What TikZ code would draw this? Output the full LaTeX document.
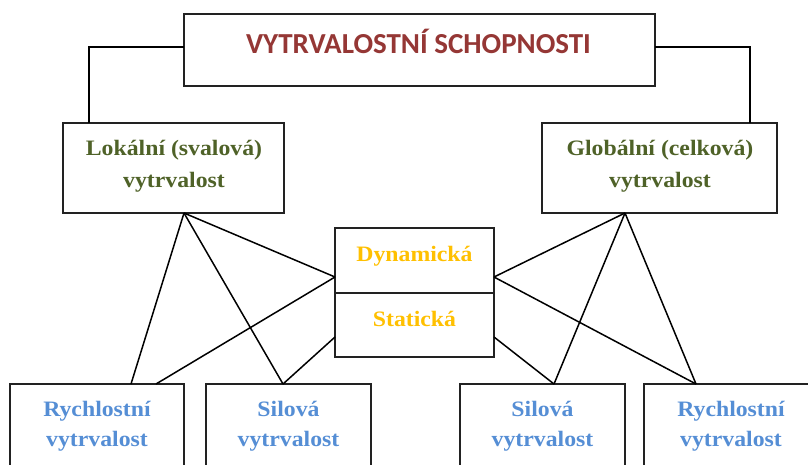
\documentclass[tikz,border=0pt]{standalone}
\usepackage{fontspec}
\usetikzlibrary{calc}
\newfontfamily\serb{Liberation Serif}[FakeStretch=1.08]
\newfontfamily\calb{Carlito}
\definecolor{titlered}{HTML}{953735}
\definecolor{olivegreen}{HTML}{4F6228}
\definecolor{goldtext}{HTML}{FFC000}
\definecolor{bluetext}{HTML}{558ED5}
\definecolor{boxline}{HTML}{222222}
\tikzset{
  boxnode/.style={draw=boxline, line width=1.7pt, inner sep=0pt, outer sep=0pt, fill=white},
  conn/.style={draw=black, line width=1.5pt},
  lbl/.style={inner sep=0pt, anchor=base, font=\serb\bfseries\fontsize{22}{24}\selectfont},
  titletext/.style={inner sep=0pt, anchor=base, text=titlered, font=\calb\bfseries\fontsize{29}{32}\selectfont},
}
\begin{document}
\begin{tikzpicture}[x=1pt, y=-1pt]
\useasboundingbox (0,0) rectangle (808,464);
\clip (0,0) rectangle (808,464);
\fill[white] (0,0) rectangle (808,464);
% boxes
\node[boxnode, minimum width=471pt, minimum height=72pt] (top) at (419.5,50) {};
\node[boxnode, minimum width=221pt, minimum height=90pt] (loc) at (173.5,168) {};
\node[boxnode, minimum width=235pt, minimum height=90pt] (glob) at (659.5,168) {};
\node[boxnode, minimum width=159pt, minimum height=65pt] (dyn) at (414.5,260.5) {};
\node[boxnode, minimum width=159pt, minimum height=64pt] (stat) at (414.5,325) {};
\node[boxnode, minimum width=174pt, minimum height=110pt] (b1) at (97,439) {};
\node[boxnode, minimum width=165pt, minimum height=110pt] (b2) at (288.5,439) {};
\node[boxnode, minimum width=165pt, minimum height=110pt] (b3) at (542.5,439) {};
\node[boxnode, minimum width=176pt, minimum height=110pt] (b4) at (732,439) {};
% anchor points
\coordinate (la) at ($(loc.south)+(10.5pt,0)$);
\coordinate (ra) at ($(glob.south)+(-34.5pt,0)$);
\coordinate (mlu) at ($(dyn.west)+(0,-16.5pt)$);
\coordinate (mll) at ($(stat.west)+(0,-12pt)$);
\coordinate (mru) at ($(dyn.east)+(0,-16.5pt)$);
\coordinate (mrl) at ($(stat.east)+(0,-12pt)$);
\coordinate (b1a) at ($(b1.north)+(34pt,0)$);
\coordinate (b1b) at ($(b1.north)+(59pt,0)$);
\coordinate (b2a) at ($(b2.north)+(-5.5pt,0)$);
\coordinate (b3a) at ($(b3.north)+(11.5pt,0)$);
\coordinate (b4a) at ($(b4.north)+(-36pt,0)$);
% connectors top
\draw[conn] ([yshift=3pt]top.west) -| ($(loc.north west)+(26pt,0)$);
\draw[conn] ([yshift=3pt]top.east) -| ($(glob.north east)+(-27pt,0)$);
% left side
\draw[conn] (la) -- (b1a);
\draw[conn] (la) -- (b2a);
\draw[conn] (la) -- (mlu);
\draw[conn] (mlu) -- (b1b);
\draw[conn] (mll) -- (b2a);
% right side
\draw[conn] (ra) -- (mru);
\draw[conn] (ra) -- (b3a);
\draw[conn] (ra) -- (b4a);
\draw[conn] (mru) -- (b4a);
\draw[conn] (mrl) -- (b3a);
% texts
\node[titletext] (tt) at (418.5,53) {VYTRVALOSTNÍ SCHOPNOSTI};
\node[lbl, text=olivegreen] (loc1) at (174,155) {Lokální (svalová)};
\node[lbl, text=olivegreen] (loc2) at (174,187) {vytrvalost};
\node[lbl, text=olivegreen] (glob1) at (660,155) {Globální (celková)};
\node[lbl, text=olivegreen] (glob2) at (660,187) {vytrvalost};
\node[lbl, text=goldtext] (dyn1) at (414.5,261) {Dynamická};
\node[lbl, text=goldtext] (stat1) at (414.5,326) {Statická};
\node[lbl, text=bluetext] (b1t1) at (97,416) {Rychlostní};
\node[lbl, text=bluetext] (b1t2) at (97,446) {vytrvalost};
\node[lbl, text=bluetext] (b2t1) at (288.5,416) {Silová};
\node[lbl, text=bluetext] (b2t2) at (288.5,446) {vytrvalost};
\node[lbl, text=bluetext] (b3t1) at (542.5,416) {Silová};
\node[lbl, text=bluetext] (b3t2) at (542.5,446) {vytrvalost};
\node[lbl, text=bluetext] (b4t1) at (731,416) {Rychlostní};
\node[lbl, text=bluetext] (b4t2) at (731,446) {vytrvalost};
\end{tikzpicture}
\end{document}
